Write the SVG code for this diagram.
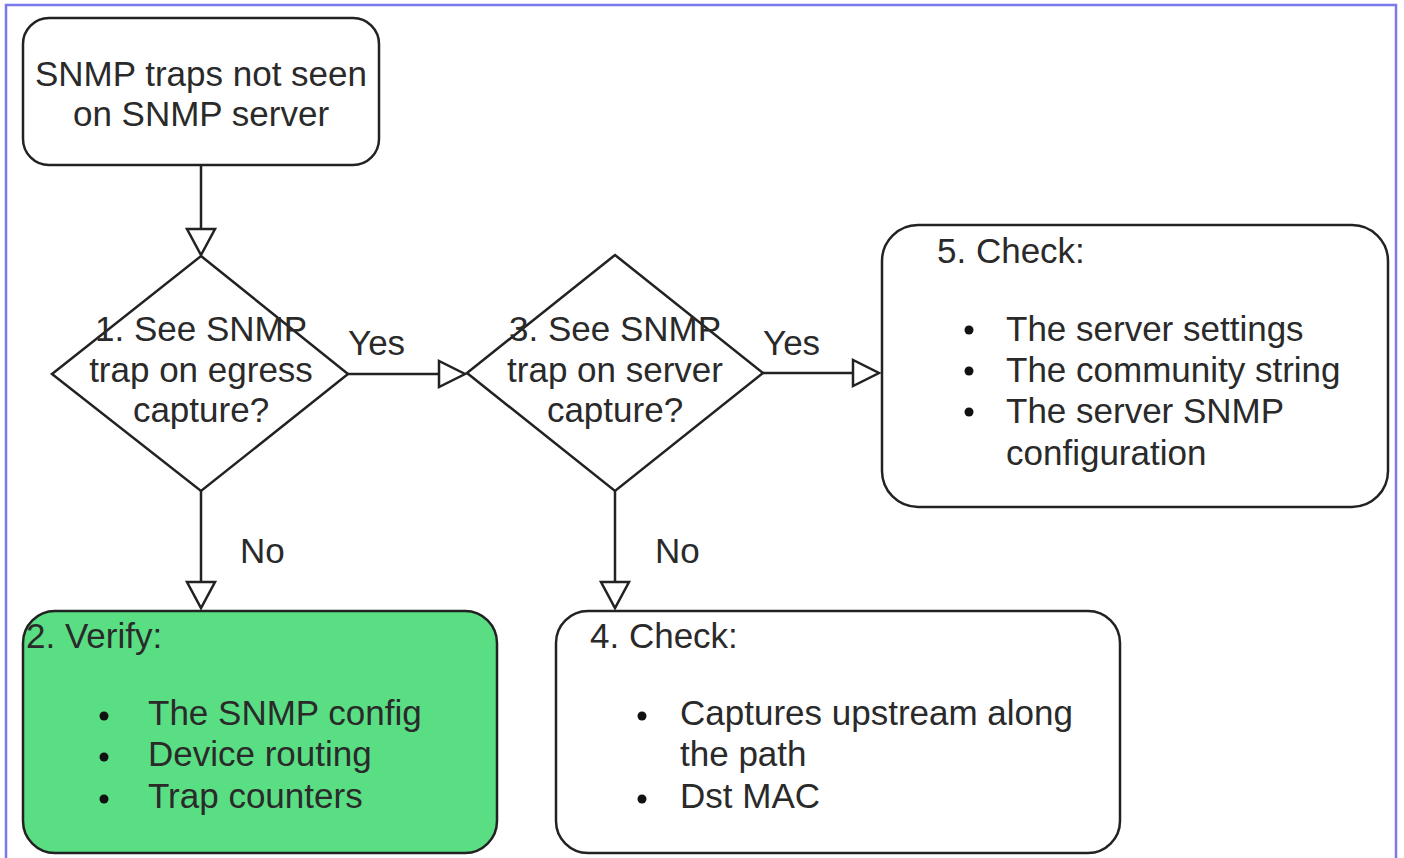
<svg xmlns="http://www.w3.org/2000/svg" width="1404" height="858" viewBox="0 0 1404 858">
<style>
.n{fill:#fff;stroke:#222;stroke-width:2.5}
.t{font-family:"Liberation Sans",Arial,sans-serif;font-size:35px;fill:#2a2a2a}
.c{text-anchor:middle}
.e{stroke:#222;stroke-width:2.5;fill:none}
.h{fill:#fff;stroke:#222;stroke-width:2.5}
</style>
<rect x="0" y="0" width="1404" height="858" fill="#fff"/>
<path d="M6 858 V5 H1396 V858" fill="none" stroke="#7a7aee" stroke-width="2.5"/>
<g id="connectors">
<path class="e" d="M201 165 V230"/>
<polygon class="h" points="187,229 215,229 201,255"/>
<path class="e" d="M348 374 H439"/>
<polygon class="h" points="439,361 439,387 465,374"/>
<text class="t" x="348" y="355">Yes</text>
<path class="e" d="M763 373 H853"/>
<polygon class="h" points="853,360 853,386 879,373"/>
<text class="t" x="763" y="355">Yes</text>
<path class="e" d="M201 491 V582"/>
<polygon class="h" points="187,582 215,582 201,608"/>
<text class="t" x="240" y="563">No</text>
<path class="e" d="M615 491 V582"/>
<polygon class="h" points="601,582 629,582 615,608"/>
<text class="t" x="655" y="563">No</text>
</g>
<g id="start">
<rect class="n" x="23" y="18" width="356" height="147" rx="26"/>
<text class="t c" x="201" y="86">SNMP traps not seen</text>
<text class="t c" x="201" y="126">on SNMP server</text>
</g>
<g id="q1">
<polygon class="n" points="201,256 348,374 201,491 52,374"/>
<text class="t c" x="201" y="341">1. See SNMP</text>
<text class="t c" x="201" y="382">trap on egress</text>
<text class="t c" x="201" y="422">capture?</text>
</g>
<g id="q3">
<polygon class="n" points="615,255 763,373 615,491 467,373"/>
<text class="t c" x="615" y="341">3. See SNMP</text>
<text class="t c" x="615" y="382">trap on server</text>
<text class="t c" x="615" y="422">capture?</text>
</g>
<g id="check5">
<rect class="n" x="882" y="225" width="506" height="282" rx="36"/>
<text class="t" x="937" y="263">5. Check:</text>
<circle cx="969" cy="330" r="4.5" fill="#111"/>
<circle cx="969" cy="371" r="4.5" fill="#111"/>
<circle cx="969" cy="412" r="4.5" fill="#111"/>
<text class="t" x="1006" y="341">The server settings</text>
<text class="t" x="1006" y="382">The community string</text>
<text class="t" x="1006" y="423">The server SNMP</text>
<text class="t" x="1006" y="465">configuration</text>
</g>
<g id="verify2">
<rect x="23" y="611" width="474" height="242" rx="32" fill="#5ade84" stroke="#222" stroke-width="2.5"/>
<text class="t" x="26" y="648">2. Verify:</text>
<circle cx="104" cy="716" r="4.5" fill="#111"/>
<circle cx="104" cy="757" r="4.5" fill="#111"/>
<circle cx="104" cy="799" r="4.5" fill="#111"/>
<text class="t" x="148" y="725">The SNMP config</text>
<text class="t" x="148" y="766">Device routing</text>
<text class="t" x="148" y="808">Trap counters</text>
</g>
<g id="check4">
<rect class="n" x="556" y="611" width="564" height="242" rx="32"/>
<text class="t" x="590" y="648">4. Check:</text>
<circle cx="642" cy="716" r="4.5" fill="#111"/>
<circle cx="642" cy="799" r="4.5" fill="#111"/>
<text class="t" x="680" y="725">Captures upstream along</text>
<text class="t" x="680" y="766">the path</text>
<text class="t" x="680" y="808">Dst MAC</text>
</g>
</svg>
